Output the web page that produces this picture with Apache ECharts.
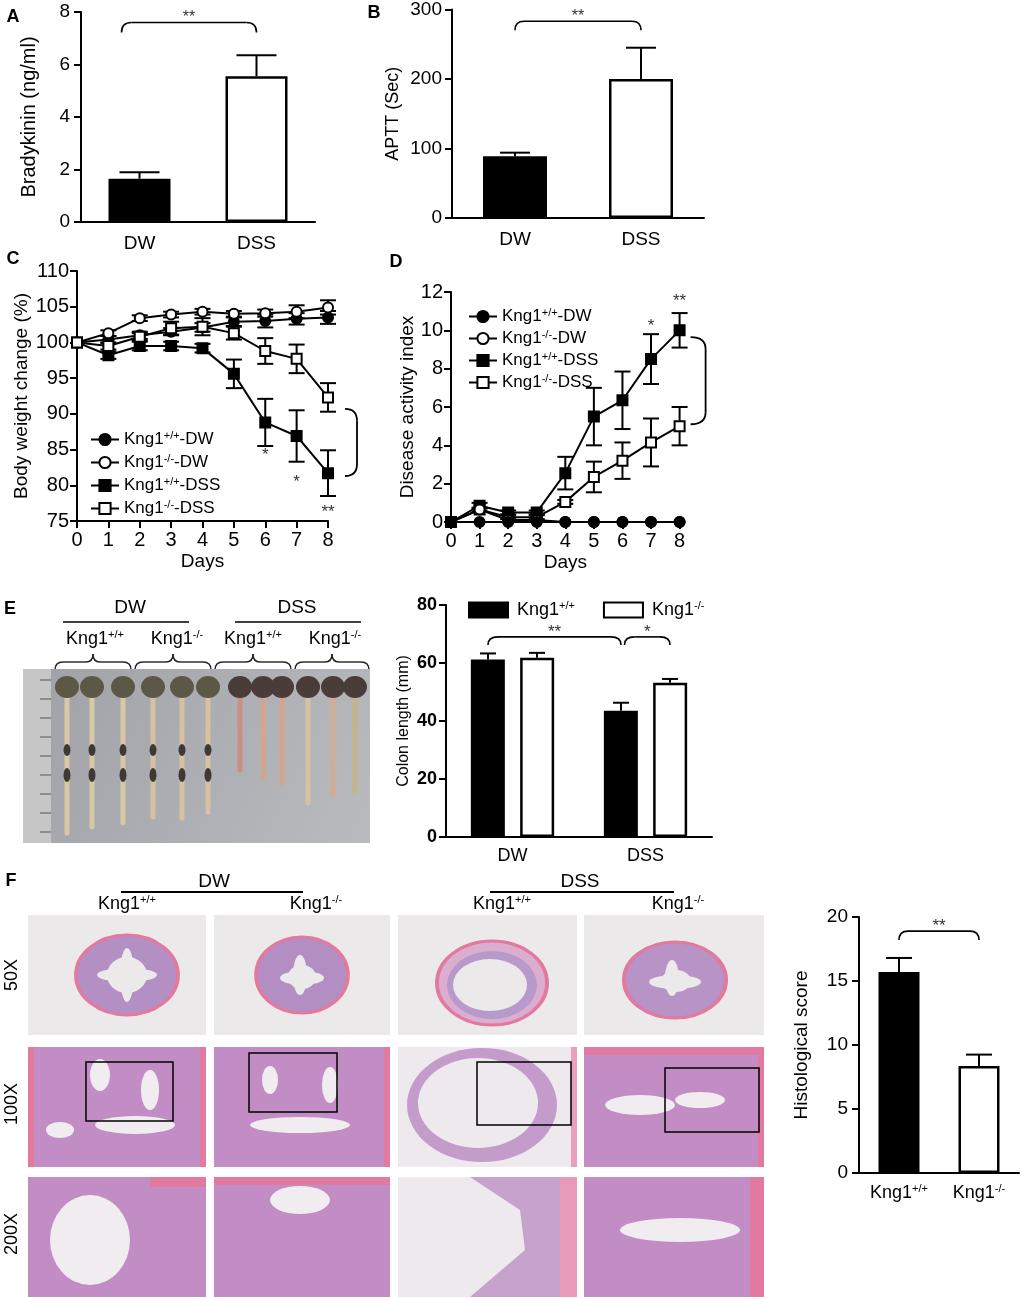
<!DOCTYPE html>
<html><head><meta charset="utf-8">
<script src="https://cdn.jsdelivr.net/npm/echarts@6/dist/echarts.min.js"></script>
<style>html,body{margin:0;padding:0;background:#fff}#c{width:1022px;height:1299px}</style>
</head><body><div id="c"></div>
<script>
const FONT = '"Liberation Sans", Arial, Helvetica, sans-serif';

// ---------- DATA ----------
const groupsAB = ['DW', 'DSS'];
const bradykinin = [1.65, 5.55];
const bradykininErr = [0.25, 0.8];
const aptt = [89, 200];
const apttErr = [5, 45];

const days = [0, 1, 2, 3, 4, 5, 6, 7, 8];
const lineNames = ['Kng1+/+-DW', 'Kng1-/--DW', 'Kng1+/+-DSS', 'Kng1-/--DSS'];
// Panel C: body weight change (%)
const bwWtDW = [100, 100.4, 101.0, 101.5, 102.1, 102.9, 103.0, 103.3, 103.5];
const bwWtDWErr = [0, 0.5, 0.5, 0.5, 0.6, 0.6, 0.9, 0.8, 0.9];
const bwKoDW = [100, 101.3, 103.4, 103.9, 104.3, 104.0, 104.1, 104.3, 104.9];
const bwKoDWErr = [0, 0.4, 0.4, 0.4, 0.4, 0.4, 0.5, 0.9, 1.0];
const bwWtDSS = [100, 98.2, 99.5, 99.5, 99.2, 95.6, 88.8, 86.9, 81.7];
const bwWtDSSErr = [0, 0.5, 0.6, 0.6, 0.6, 2.0, 3.3, 3.6, 3.2];
const bwKoDSS = [100, 99.5, 100.8, 102.0, 102.2, 101.3, 98.8, 97.7, 92.3];
const bwKoDSSErr = [0, 0.5, 0.5, 0.9, 1.2, 0.9, 1.8, 2.0, 2.0];
// Panel D: disease activity index
const daiWtDW = [0, 0, 0, 0, 0, 0, 0, 0, 0];
const daiKoDW = [0, 0.65, 0.1, 0.1, 0, 0, 0, 0, 0];
const daiWtDSS = [0, 0.85, 0.5, 0.5, 2.55, 5.5, 6.35, 8.5, 10.0];
const daiWtDSSErr = [0, 0.15, 0.1, 0.1, 0.85, 1.5, 1.5, 1.3, 0.9];
const daiKoDSS = [0, 0.65, 0.25, 0.25, 1.05, 2.35, 3.2, 4.15, 5.0];
const daiKoDSSErr = [0, 0.1, 0.1, 0.1, 0.1, 0.8, 0.95, 1.25, 1.0];
// Panel E: colon length (mm)
const colonNames = ['Kng1+/+', 'Kng1-/-'];
const colonWt = [61.2, 43.5];
const colonWtErr = [2.1, 2.8];
const colonKo = [61.8, 53.2];
const colonKoErr = [1.7, 1.3];
// Panel F: histological score
const histoCats = ['Kng1+/+', 'Kng1-/-'];
const histoScore = [15.7, 8.35];
const histoErr = [1.1, 0.9];

// significance annotations
const bracketA = [{from: 0, fromS: 0, to: 1, toS: 1, level: 7.6, label: '**'}];
const bracketB = [{from: 0, to: 1, level: 283, label: '**'}];
const bracketF = [{from: 0, to: 1, level: 18.9, label: '**'}];
const bracketE = [{from: 0, fromS: 0, to: 1, toS: 0, level: 69, label: '**'},
                  {from: 1, fromS: 2, to: 1, toS: 1, level: 69, label: '*'}];
const sideBracketC = [{x: 8, top: 90.7, bottom: 81.3}];
const sideBracketD = [{x: 8, top: 9.65, bottom: 5.1}];
const starsC = [{x: 6, y: 84.6, label: '*'}, {x: 7, y: 80.8, label: '*'}, {x: 8, y: 76.6, label: '**'}];
const starsD = [{x: 7, y: 10.35, label: '*'}, {x: 8, y: 11.65, label: '**'}];

// ---------- HELPERS ----------
function supText(s, cls) {
  const m = String(s).match(/^(Kng1)(\+\/\+|-\/-)(.*)$/);
  if (!m) return s;
  return '{' + cls + '|' + m[1] + '}{' + cls + 's|' + m[2] + '}' + (m[3] ? '{' + cls + '|' + m[3] + '}' : '');
}
function richSet(cls, size, supSize) {
  const r = {};
  r[cls] = {fontSize: size, fontFamily: FONT, color: '#000', lineHeight: size + 2};
  r[cls + 's'] = {fontSize: supSize, fontFamily: FONT, color: '#000', lineHeight: supSize, verticalAlign: 'top'};
  return r;
}
const lineStyle = {color: '#000', width: 2};
function catX(gi, data, size, margin, fmt, rich) {
  return {type: 'category', gridIndex: gi, data: data,
    axisLine: {lineStyle: lineStyle}, axisTick: {alignWithLabel: true, length: 6, lineStyle: lineStyle},
    axisLabel: {interval: 0, fontSize: size, fontFamily: FONT, color: '#000', margin: margin, formatter: fmt, rich: rich},
    splitLine: {show: false}};
}
function valAx(gi, min, max, interval, size, margin, bold) {
  return {type: 'value', gridIndex: gi, min: min, max: max, interval: interval,
    axisLine: {show: true, onZero: false, lineStyle: lineStyle}, axisTick: {show: true, length: 7, lineStyle: lineStyle},
    axisLabel: {fontSize: size, fontFamily: FONT, color: '#000', margin: margin, fontWeight: bold ? 'bold' : 'normal'},
    splitLine: {show: false}};
}
function withName(ax, name, size, gap) {
  ax.name = name; ax.nameLocation = 'middle'; ax.nameGap = gap;
  ax.nameTextStyle = {fontSize: size, fontFamily: FONT, color: '#000'};
  return ax;
}
function errSeries(gi, xs, ys, es, both, capW, offset, z) {
  return {type: 'custom', xAxisIndex: gi, yAxisIndex: gi, z: z || 3, clip: false, silent: true,
    data: xs.map((x, i) => [x, ys[i], es[i]]),
    encode: {x: 0, y: 1},
    renderItem: function (params, api) {
      const x = api.value(0), y = api.value(1), e = api.value(2);
      if (!e) return {type: 'group', children: []};
      const c = api.coord([x, y]), t = api.coord([x, y + e]), b = both ? api.coord([x, y - e]) : c;
      const cx = c[0] + (offset || 0);
      const st = {stroke: '#000', lineWidth: 2};
      const ch = [
        {type: 'line', shape: {x1: cx, y1: b[1], x2: cx, y2: t[1]}, style: st},
        {type: 'line', shape: {x1: cx - capW / 2, y1: t[1], x2: cx + capW / 2, y2: t[1]}, style: st}];
      if (both) ch.push({type: 'line', shape: {x1: cx - capW / 2, y1: b[1], x2: cx + capW / 2, y2: b[1]}, style: st});
      return {type: 'group', children: ch};
    }};
}
function bracketSeries(gi, list, hook, r, offsets, starSize) {
  return {type: 'custom', xAxisIndex: gi, yAxisIndex: gi, z: 5, clip: false, silent: true,
    data: list.map(b => [b.from, b.level]),
    encode: {x: 0, y: 1},
    renderItem: function (params, api) {
      const b = list[params.dataIndex];
      const p1 = api.coord([b.from, b.level]), p2 = api.coord([b.to, b.level]);
      const x1 = p1[0] + (offsets ? offsets[b.fromS] : 0), x2 = p2[0] + (offsets ? offsets[b.toS] : 0), y = p1[1];
      const st = {stroke: '#000', lineWidth: 1.6, fill: null};
      return {type: 'group', children: [
        {type: 'bezierCurve', shape: {x1: x1, y1: y + hook, cpx1: x1, cpy1: y, x2: x1 + r, y2: y}, style: st},
        {type: 'line', shape: {x1: x1 + r, y1: y, x2: x2 - r, y2: y}, style: st},
        {type: 'bezierCurve', shape: {x1: x2 - r, y1: y, cpx1: x2, cpy1: y, x2: x2, y2: y + hook}, style: st},
        {type: 'text', x: (x1 + x2) / 2, y: y - 5, style: {text: b.label, fontSize: starSize, fontFamily: FONT, fill: '#333', align: 'center', verticalAlign: 'middle'}}
      ]};
    }};
}
function sideBracketSeries(gi, list, o1, o2, r) {
  return {type: 'custom', xAxisIndex: gi, yAxisIndex: gi, z: 5, clip: false, silent: true,
    data: list.map(b => [b.x, b.top]),
    encode: {x: 0, y: 1},
    renderItem: function (params, api) {
      const b = list[params.dataIndex];
      const pt = api.coord([b.x, b.top]), pb = api.coord([b.x, b.bottom]);
      const x1 = pt[0] + o1, x2 = pt[0] + o2;
      const st = {stroke: '#000', lineWidth: 1.8, fill: null};
      return {type: 'group', children: [
        {type: 'bezierCurve', shape: {x1: x1, y1: pt[1], cpx1: x2, cpy1: pt[1], x2: x2, y2: pt[1] + r}, style: st},
        {type: 'line', shape: {x1: x2, y1: pt[1] + r, x2: x2, y2: pb[1] - r}, style: st},
        {type: 'bezierCurve', shape: {x1: x2, y1: pb[1] - r, cpx1: x2, cpy1: pb[1], x2: x1, y2: pb[1]}, style: st}
      ]};
    }};
}
function starSeries(gi, list, size) {
  return {type: 'custom', xAxisIndex: gi, yAxisIndex: gi, z: 5, clip: false, silent: true,
    data: list.map(s => [s.x, s.y]),
    encode: {x: 0, y: 1},
    renderItem: function (params, api) {
      const s = list[params.dataIndex];
      const p = api.coord([s.x, s.y]);
      return {type: 'text', x: p[0], y: p[1] + 3, style: {text: s.label, fontSize: size, fontFamily: FONT, fill: '#333', align: 'center', verticalAlign: 'middle'}};
    }};
}
const markerStyles = [
  {symbol: 'circle', size: 10, fill: '#000'},
  {symbol: 'circle', size: 10, fill: '#fff'},
  {symbol: 'rect', size: 10, fill: '#000'},
  {symbol: 'rect', size: 10, fill: '#fff'}
];
function lineSeries(gi, name, ys, k, z) {
  const m = markerStyles[k];
  return {type: 'line', name: name, xAxisIndex: gi, yAxisIndex: gi, z: z,
    data: days.map((d, i) => [d, ys[i]]),
    symbol: m.symbol, symbolSize: m.size, showSymbol: true,
    lineStyle: {color: '#000', width: 2},
    itemStyle: {color: m.fill, borderColor: '#000', borderWidth: 2}};
}

// ---------- DECORATION (photos, headers) ----------
const T = (x, y, text, size, opts) => Object.assign({type: 'text', x: x, y: y, silent: true,
  style: Object.assign({text: text, fontSize: size, fontFamily: FONT, fill: '#000', align: 'center', verticalAlign: 'middle'}, (opts && opts.style) || {})},
  opts && opts.rotation ? {rotation: opts.rotation} : {});
const richHdr = Object.assign({}, richSet('h', 18, 11));
const TR = (x, y, name) => ({type: 'text', x: x, y: y, silent: true,
  style: {text: supText(name, 'h'), rich: richHdr, align: 'center', verticalAlign: 'middle'}});
const L = (x1, y1, x2, y2, w, col) => ({type: 'line', silent: true, shape: {x1, y1, x2, y2}, style: {stroke: col || '#000', lineWidth: w || 1.6}});
const R = (x, y, w, h, fill, stroke, lw) => ({type: 'rect', silent: true, shape: {x, y, width: w, height: h}, style: {fill: fill || 'none', stroke: stroke || null, lineWidth: lw || 0}});
const E = (cx, cy, rx, ry, fill, stroke, lw) => ({type: 'circle', silent: true, x: cx, y: cy, scaleX: rx / ry, scaleY: 1,
  shape: {cx: 0, cy: 0, r: ry}, style: {fill: fill, stroke: stroke || null, lineWidth: lw || 0, strokeNoScale: true}});
const Q = (x1, y1, cx, cy, x2, y2, col, w) => ({type: 'bezierCurve', silent: true, shape: {x1, y1, cpx1: cx, cpy1: cy, x2, y2}, style: {stroke: col, lineWidth: w, fill: null}});
function brace(x1, x2, y) {
  const m = (x1 + x2) / 2, c = '#222', w = 1.4;
  return [Q(x1, y + 8, x1, y, x1 + 8, y, c, w), L(x1 + 8, y, m - 7, y, w, c), Q(m - 7, y, m, y, m, y - 8, c, w),
    Q(m, y - 8, m, y, m + 7, y, c, w), L(m + 7, y, x2 - 8, y, w, c), Q(x2 - 8, y, x2, y, x2, y + 8, c, w)];
}
const deco = [];
// panel letters
[['A', 13, 17], ['B', 374, 13], ['C', 13, 259], ['D', 396, 262], ['E', 10, 609], ['F', 11, 881]].forEach(a =>
  deco.push(T(a[1], a[2], a[0], 18, {style: {fontWeight: 'bold'}})));
// E header
deco.push(T(130, 608, 'DW', 19), L(63, 622, 189, 622), T(297, 608, 'DSS', 19), L(235, 622, 361, 622));
[[95, 'Kng1+/+'], [177, 'Kng1-/-'], [253, 'Kng1+/+'], [335, 'Kng1-/-']].forEach(k => deco.push(TR(k[0], 639, k[1])));
[[55, 131], [135, 211], [215, 291], [295, 369]].forEach(b => brace(b[0], b[1], 662).forEach(e => deco.push(e)));
// E photo (placeholder drawing)
deco.push({type: 'rect', silent: true, shape: {x: 23, y: 669, width: 347, height: 174},
  style: {fill: {type: 'linear', x: 0, y: 0, x2: 1, y2: 1, colorStops: [{offset: 0, color: '#9fa1a7'}, {offset: 1, color: '#b9bbbf'}]}}});
deco.push(R(23, 669, 28, 174, '#c6c6c6'));
for (let i = 0; i < 9; i++) deco.push(L(40, 680 + i * 19, 51, 680 + i * 19, 1, '#555'));
const colonX = [67, 92, 123, 153, 182, 208, 240, 263, 282, 308, 333, 355];
const colonEnd = [833, 827, 823, 817, 818, 812, 770, 778, 783, 803, 795, 792];
const colonTint = ['#d9c8a6', '#d9c8a6', '#d9c8a6', '#d6c2a0', '#d6c2a0', '#d6c2a0', '#c98f86', '#d3a58f', '#d3a58f', '#d6c2a0', '#cfae94', '#c6b48e'];
colonX.forEach((x, i) => {
  deco.push({type: 'line', silent: true, shape: {x1: x, y1: 690, x2: x, y2: colonEnd[i]}, style: {stroke: colonTint[i], lineWidth: 5, lineCap: 'round'}});
  deco.push(E(x, 687, 12, 11, i < 6 ? '#5c5846' : '#4a3c38'));
  if (i < 6) { deco.push(E(x, 750, 3.5, 6, '#3e3a32'), E(x, 775, 3.5, 7, '#3e3a32')); }
});
// F header
deco.push(T(214, 882, 'DW', 19), L(121, 892, 303, 892, 2), T(580, 882, 'DSS', 19), L(490, 892, 674, 892, 2));
[[127, 'Kng1+/+'], [316, 'Kng1-/-'], [502, 'Kng1+/+'], [678, 'Kng1-/-']].forEach(k => deco.push(TR(k[0], 904, k[1])));
deco.push(T(12, 975, '50X', 18, {rotation: Math.PI / 2}), T(12, 1104, '100X', 18, {rotation: Math.PI / 2}), T(12, 1234, '200X', 18, {rotation: Math.PI / 2}));
// F histology tiles (placeholder drawing)
const cols = [[28, 206], [214, 390], [398, 577], [584, 764]];
const rows = [[915, 1035], [1047, 1167], [1177, 1297]];
const BG = '#ece9ea', TIS = '#c28dc4', PINK = '#e2799e';
cols.forEach((c, ci) => {
  const w = c[1] - c[0];
  deco.push(R(c[0], rows[0][0], w, 120, BG));
  for (let r = 1; r < 3; r++) deco.push(R(c[0], rows[r][0], w, 120, ci === 2 ? '#eee9ed' : TIS));
});
// 50X rings
deco.push(E(127, 975, 51, 40, '#b48fc4', PINK, 3), E(127, 975, 30, 7, BG), E(127, 975, 7, 27, BG), E(127, 975, 20, 18, BG));
deco.push(E(302, 975, 46, 38, '#b38ec3', PINK, 3), E(302, 978, 22, 7, BG), E(300, 975, 7, 20, BG), E(302, 977, 14, 12, BG));
deco.push(E(492, 983, 55, 42, '#dbaed0', PINK, 3), E(492, 985, 45, 34, '#b79acb'), E(490, 985, 37, 26, BG));
deco.push(E(675, 980, 51, 38, '#b893c6', PINK, 3), E(675, 982, 26, 7, BG), E(672, 978, 7, 18, BG), E(676, 981, 15, 11, BG));
// 100X details
deco.push(E(135, 1125, 40, 9, '#f0ecef'), E(100, 1075, 10, 16, '#f0ecef'), E(150, 1090, 9, 20, '#f0ecef'), E(60, 1130, 14, 8, '#f0ecef'));
deco.push(R(28, 1047, 6, 120, PINK), R(200, 1047, 6, 120, PINK));
deco.push(E(300, 1125, 50, 8, '#f0ecef'), E(270, 1080, 8, 14, '#f0ecef'), E(330, 1085, 8, 18, '#f0ecef'), R(384, 1047, 6, 120, PINK));
deco.push(E(482, 1105, 75, 57, '#c49ccb'), E(478, 1103, 60, 45, '#eee9ed'), R(571, 1047, 6, 120, '#e9a0bb'));
deco.push(E(640, 1105, 35, 10, '#f0ecef'), E(700, 1100, 25, 8, '#f0ecef'), R(584, 1047, 180, 8, PINK), R(758, 1047, 6, 120, PINK));
// 100X boxes
[[86, 1062, 87, 59], [249, 1053, 88, 59], [477, 1062, 94, 63], [665, 1068, 94, 64]].forEach(b => deco.push(R(b[0], b[1], b[2], b[3], null, '#000', 1.5)));
// 200X details
deco.push(E(90, 1240, 40, 45, '#f0ecef'), R(150, 1177, 56, 10, PINK));
deco.push(E(300, 1200, 30, 14, '#f0ecef'), R(214, 1177, 176, 8, PINK));
deco.push({type: 'polygon', silent: true, shape: {points: [[470, 1177], [577, 1177], [577, 1297], [470, 1297], [525, 1250], [520, 1210]]}, style: {fill: '#c6a2cc'}});
deco.push(R(560, 1177, 17, 120, '#e79bb8'));
deco.push(E(680, 1230, 60, 12, '#f0ecef'), R(750, 1177, 14, 120, PINK));

// ---------- OPTION ----------
const legRich = richSet('l', 17, 11);
const legERich = richSet('e', 18, 11);
const xRichF = richSet('x', 18, 11);

const option = {
  animation: false,
  backgroundColor: '#fff',
  textStyle: {fontFamily: FONT},
  grid: [
    {left: 81, top: 12, width: 234, height: 210},
    {left: 452, top: 8, width: 252, height: 210},
    {left: 77, top: 271, width: 251, height: 250},
    {left: 451, top: 292, width: 228.6, height: 230},
    {left: 446, top: 605, width: 266, height: 232},
    {left: 859, top: 917, width: 160, height: 256}
  ],
  xAxis: [
    catX(0, groupsAB, 19, 12),
    catX(1, groupsAB, 19, 12),
    withName(valAx(2, 0, 8, 1, 20, 9), 'Days', 19, 31),
    withName(valAx(3, 0, 8, 1, 20, 9), 'Days', 19, 31),
    catX(4, groupsAB, 18, 10),
    catX(5, histoCats, 18, 10, v => supText(v, 'x'), xRichF)
  ],
  yAxis: [
    withName(valAx(0, 0, 8, 2, 19, 11), 'Bradykinin (ng/ml)', 20, 42),
    withName(valAx(1, 0, 300, 100, 19, 10), 'APTT (Sec)', 18, 50),
    withName(valAx(2, 75, 110, 5, 20, 8), 'Body weight change (%)', 19, 43),
    withName(valAx(3, 0, 12, 2, 20, 8), 'Disease activity index', 19, 22),
    withName(valAx(4, 0, 80, 20, 18, 9, true), 'Colon length (mm)', 16, 34),
    withName(valAx(5, 0, 20, 5, 19, 11), 'Histological score', 19, 48)
  ],
  legend: [
    {data: lineNames.slice(), left: 85, top: 425, orient: 'vertical', itemWidth: 28, itemHeight: 14, itemGap: 5,
      selectedMode: false, formatter: n => supText(n, 'l'), textStyle: {fontSize: 17, rich: legRich}},
    {data: lineNames.slice(), left: 463, top: 302, orient: 'vertical', itemWidth: 28, itemHeight: 14, itemGap: 4,
      selectedMode: false, formatter: n => supText(n, 'l'), textStyle: {fontSize: 17, rich: legRich}},
    {data: colonNames.slice(), left: 463, top: 595, orient: 'horizontal', icon: 'rect', itemWidth: 39, itemHeight: 15, itemGap: 28,
      selectedMode: false, formatter: n => supText(n, 'e'), textStyle: {fontSize: 18, rich: legERich, padding: [0, 0, 0, 4]}}
  ],
  graphic: {elements: deco},
  series: [
    // A
    {type: 'bar', name: 'Bradykinin', xAxisIndex: 0, yAxisIndex: 0, barWidth: 62,
      data: bradykinin.map((v, i) => ({value: v, itemStyle: i === 0 ? {color: '#000'} : {color: '#fff', borderColor: '#000', borderWidth: 2.5}}))},
    errSeries(0, [0, 1], bradykinin, bradykininErr, false, 40, 0),
    bracketSeries(0, bracketA, 10, 10, [-18, 0], 16),
    // B
    {type: 'bar', name: 'APTT', xAxisIndex: 1, yAxisIndex: 1, barWidth: 64,
      data: aptt.map((v, i) => ({value: v, itemStyle: i === 0 ? {color: '#000'} : {color: '#fff', borderColor: '#000', borderWidth: 2.5}}))},
    errSeries(1, [0, 1], aptt, apttErr, false, 30, 0),
    bracketSeries(1, bracketB, 9, 9, null, 16),
    // C
    errSeries(2, days, bwWtDW, bwWtDWErr, true, 16, 0, 2),
    errSeries(2, days, bwKoDW, bwKoDWErr, true, 16, 0, 2),
    errSeries(2, days, bwWtDSS, bwWtDSSErr, true, 16, 0, 2),
    errSeries(2, days, bwKoDSS, bwKoDSSErr, true, 16, 0, 2),
    lineSeries(2, lineNames[0], bwWtDW, 0, 4),
    lineSeries(2, lineNames[1], bwKoDW, 1, 4),
    lineSeries(2, lineNames[2], bwWtDSS, 2, 4),
    lineSeries(2, lineNames[3], bwKoDSS, 3, 4),
    sideBracketSeries(2, sideBracketC, 17, 29, 12),
    starSeries(2, starsC, 17),
    // D
    errSeries(3, days, daiWtDSS, daiWtDSSErr, true, 16, 0, 2),
    errSeries(3, days, daiKoDSS, daiKoDSSErr, true, 16, 0, 2),
    lineSeries(3, lineNames[3], daiKoDSS, 3, 4),
    lineSeries(3, lineNames[2], daiWtDSS, 2, 4),
    lineSeries(3, lineNames[1], daiKoDW, 1, 4),
    lineSeries(3, lineNames[0], daiWtDW, 0, 4),
    sideBracketSeries(3, sideBracketD, 11, 26, 12),
    starSeries(3, starsD, 17),
    // E
    {type: 'bar', name: colonNames[0], xAxisIndex: 4, yAxisIndex: 4, barWidth: 34, barGap: '45%', data: colonWt,
      itemStyle: {color: '#000', borderColor: '#000', borderWidth: 2}},
    {type: 'bar', name: colonNames[1], xAxisIndex: 4, yAxisIndex: 4, barWidth: 34, barGap: '45%', data: colonKo,
      itemStyle: {color: '#fff', borderColor: '#000', borderWidth: 2.5}},
    errSeries(4, [0, 1], colonWt, colonWtErr, false, 16, -24.5),
    errSeries(4, [0, 1], colonKo, colonKoErr, false, 16, 24.5),
    bracketSeries(4, bracketE, 8, 10, [-24.5, 24.5, -21], 17),
    // F
    {type: 'bar', name: 'Histo', xAxisIndex: 5, yAxisIndex: 5, barWidth: 41,
      data: histoScore.map((v, i) => ({value: v, itemStyle: i === 0 ? {color: '#000'} : {color: '#fff', borderColor: '#000', borderWidth: 2.5}}))},
    errSeries(5, [0, 1], histoScore, histoErr, false, 26, 0),
    bracketSeries(5, bracketF, 9, 9, null, 17)
  ]
};
const chart = echarts.init(document.getElementById('c'), null, {renderer: 'canvas', width: 1022, height: 1299});
chart.setOption(option);
</script>
</body></html>
